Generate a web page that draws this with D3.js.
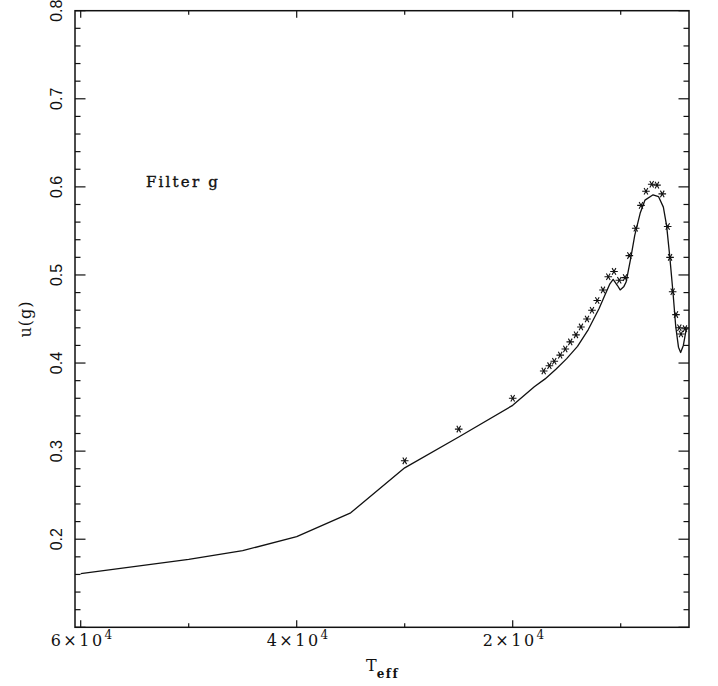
<!DOCTYPE html>
<html>
<head>
<meta charset="utf-8">
<script src="https://cdn.jsdelivr.net/npm/d3@7"></script>
<style>
  html, body { margin: 0; padding: 0; background: #fff; }
  svg { display: block; }
</style>
</head>
<body>
<div id="chart"></div>
<script>
// model curve: Teff (K) and u(g)
const modelTeff = [60000, 50000, 45000, 40000, 35000, 30000, 25000, 20000, 18000, 17000,
  16000, 15000, 14000, 13000, 12000, 11500, 11000, 10700, 10300, 10050, 9700, 9500,
  9100, 8700, 8200, 7750, 7000, 6500, 6050, 5750, 5450, 5150, 4900, 4650, 4450, 4200, 3950, 3850];
const modelU = [0.161, 0.177, 0.187, 0.203, 0.230, 0.281, 0.316, 0.352, 0.373, 0.382,
  0.393, 0.405, 0.419, 0.438, 0.462, 0.476, 0.490, 0.495, 0.488, 0.483, 0.487, 0.492,
  0.517, 0.545, 0.570, 0.585, 0.591, 0.589, 0.577, 0.556, 0.520, 0.479, 0.441, 0.418, 0.412, 0.420, 0.437, 0.439];

// asterisks
const starTeff = [30000, 25000, 20000, 17130, 16600, 16150, 15600, 15130, 14670, 14140,
  13680, 13120, 12660, 12170, 11640, 11150, 10620, 10130, 9600, 9200, 8610, 8120,
  7660, 7130, 6640, 6150, 5650, 5430, 5190, 4880, 4570, 4420, 4050];
const starU = [0.289, 0.325, 0.360, 0.391, 0.397, 0.402, 0.409, 0.416, 0.424, 0.432,
  0.441, 0.450, 0.460, 0.471, 0.483, 0.498, 0.504, 0.494, 0.497, 0.522, 0.553, 0.579,
  0.595, 0.603, 0.602, 0.592, 0.555, 0.520, 0.481, 0.455, 0.440, 0.433, 0.439];

const xMajor = [60000, 40000, 20000];
const xMinor = [50000, 30000, 10000];
const xLabels = [["6", "4"], ["4", "4"], ["2", "4"]];
const yMajor = [0.2, 0.3, 0.4, 0.5, 0.6, 0.7, 0.8];
const yLabels = ["0.2", "0.3", "0.4", "0.5", "0.6", "0.7", "0.8"];

const width = 718, height = 686;
const mLeft = 75, mRight = 689, mTop = 10.7, mBottom = 627.3;

const x = d3.scaleLinear().domain([60528, 3676]).range([mLeft, mRight]);
const y = d3.scaleLinear().domain([0.1, 0.8]).range([mBottom, mTop]);

const svg = d3.select("#chart").append("svg")
  .attr("width", width)
  .attr("height", height)
  .attr("viewBox", [0, 0, width, height]);

const ink = "#111";

// frame
svg.append("rect")
  .attr("x", mLeft).attr("y", mTop)
  .attr("width", mRight - mLeft).attr("height", mBottom - mTop)
  .attr("fill", "none").attr("stroke", ink).attr("stroke-width", 1.5);

// x ticks (bottom and top, inward)
const xt = svg.append("g").attr("stroke", ink).attr("stroke-width", 1.2);
xMajor.concat(xMinor).forEach(v => {
  const len = xMajor.includes(v) ? 7 : 4;
  xt.append("line").attr("x1", x(v)).attr("x2", x(v)).attr("y1", mBottom).attr("y2", mBottom - len);
  xt.append("line").attr("x1", x(v)).attr("x2", x(v)).attr("y1", mTop).attr("y2", mTop + len);
});

// y ticks (left and right, inward)
const yt = svg.append("g").attr("stroke", ink).attr("stroke-width", 1.2);
d3.range(0, 36).map(i => +(0.1 + i * 0.02).toFixed(2)).forEach(v => {
  const major = Math.abs(v * 10 - Math.round(v * 10)) < 1e-6;
  const len = major ? 10.5 : 5.5;
  yt.append("line").attr("y1", y(v)).attr("y2", y(v)).attr("x1", mLeft).attr("x2", mLeft + len);
  yt.append("line").attr("y1", y(v)).attr("y2", y(v)).attr("x1", mRight).attr("x2", mRight - len);
});

// x tick labels like 6x10^4
xMajor.forEach((v, i) => {
  const t = svg.append("text")
    .attr("x", x(v) + 2).attr("y", 646)
    .attr("text-anchor", "middle")
    .attr("font-family", "DejaVu Serif")
    .attr("font-size", 16)
    .attr("letter-spacing", 2.5)
    .attr("fill", ink);
  t.append("tspan").text(xLabels[i][0] + "\u00d710");
  t.append("tspan").attr("dy", -7).attr("font-size", 12).text(xLabels[i][1]);
});

// y tick labels, rotated
yMajor.forEach((v, i) => {
  svg.append("text")
    .attr("transform", `translate(62,${y(v)}) rotate(-90)`)
    .attr("text-anchor", "middle")
    .attr("font-family", "Liberation Sans")
    .attr("font-size", 16)
    .attr("fill", ink)
    .text(yLabels[i]);
});

// axis titles
const xt2 = svg.append("text")
  .attr("x", 366).attr("y", 671)
  .attr("font-family", "DejaVu Serif")
  .attr("font-size", 16)
  .attr("fill", ink);
xt2.append("tspan").text("T");
xt2.append("tspan").attr("dy", 7).attr("font-size", 12).attr("font-weight", "bold")
  .attr("letter-spacing", 1.5).text("eff");

svg.append("text")
  .attr("transform", `translate(31,319) rotate(-90)`)
  .attr("text-anchor", "middle")
  .attr("font-family", "DejaVu Serif")
  .attr("font-size", 16)
  .attr("letter-spacing", 1)
  .attr("fill", ink)
  .text("u(g)");

svg.append("text")
  .attr("x", 146).attr("y", 187)
  .attr("font-family", "DejaVu Serif")
  .attr("font-size", 15)
  .attr("stroke", ink)
  .attr("stroke-width", 0.35)
  .attr("letter-spacing", 2.2)
  .attr("fill", ink)
  .text("Filter g");

// model line
const model = modelTeff.map((t, i) => [t, modelU[i]]);
svg.append("path")
  .datum(model)
  .attr("fill", "none")
  .attr("stroke", ink)
  .attr("stroke-width", 1.3)
  .attr("stroke-linejoin", "round")
  .attr("d", d3.line().x(d => x(d[0])).y(d => y(d[1])));

// asterisks
const stars = starTeff.map((t, i) => [t, starU[i]]);
const r = 3.8;
const starPath = d3.range(3).map(k => {
  const a = k * Math.PI / 3;
  const dx = r * Math.cos(a), dy = r * Math.sin(a);
  return `M${-dx},${-dy}L${dx},${dy}`;
}).join("");
svg.append("g")
  .selectAll("path")
  .data(stars)
  .join("path")
  .attr("transform", d => `translate(${x(d[0])},${y(d[1])})`)
  .attr("d", starPath)
  .attr("stroke", ink)
  .attr("stroke-width", 1.1)
  .attr("fill", "none");
</script>
</body>
</html>
